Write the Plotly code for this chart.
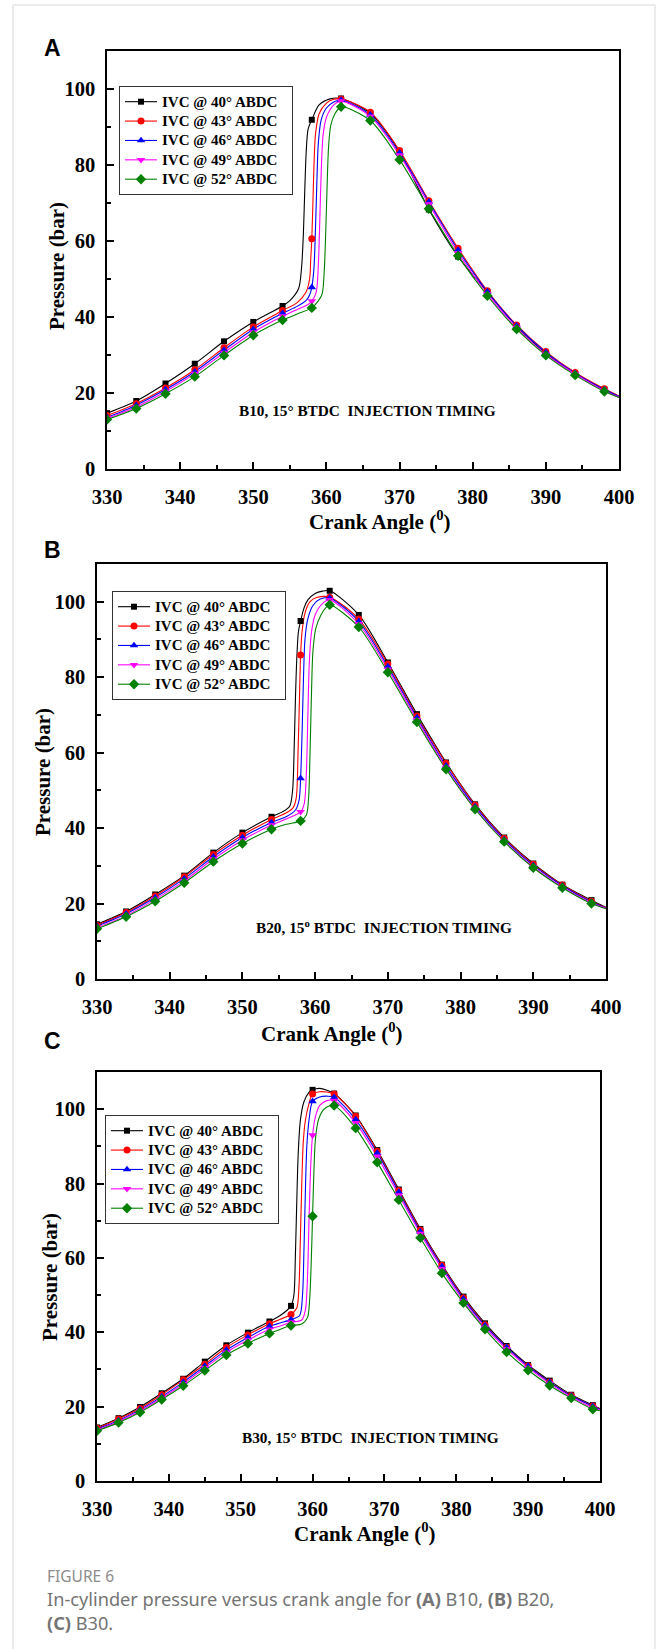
import plotly.graph_objects as go

W, H = 658, 1649

# ---------------- data ----------------
NAMES = ["IVC @ 40° ABDC", "IVC @ 43° ABDC", "IVC @ 46° ABDC", "IVC @ 49° ABDC", "IVC @ 52° ABDC"]
COLORS = ["#000000", "#ff0000", "#0000ff", "#ff00ff", "#008000"]
SYMBOLS = ["square", "circle", "triangle-up", "triangle-down", "diamond"]
MSIZES = [6, 7, 7.5, 7.5, 8]

# Panel A : B10 — markers every 4 deg
A_x = [330, 334, 338, 342, 346, 350, 354, 358, 362, 366, 370, 374, 378, 382, 386, 390, 394, 398]
A_40 = [14.7, 17.9, 22.5, 27.7, 33.6, 38.7, 42.9, 91.9, 97.5, 93.6, 83.5, 68.3, 55.9, 46.6, 37.6, 30.4, 25.1, 20.9]
A_43 = [14.1, 17.2, 21.3, 26.1, 31.9, 37.4, 41.7, 60.6, 97.4, 93.9, 83.8, 70.6, 58.1, 46.9, 37.9, 30.9, 25.4, 21.1]
A_46 = [13.6, 16.8, 20.9, 25.6, 31.3, 36.8, 41.0, 47.8, 97.1, 93.2, 83.2, 70.3, 57.6, 46.7, 37.7, 30.7, 25.2, 20.9]
A_49 = [13.3, 16.3, 20.4, 25.1, 30.6, 36.0, 40.2, 44.2, 96.8, 92.8, 82.6, 69.7, 56.9, 46.1, 37.2, 30.2, 25.0, 20.6]
A_52 = [13.0, 15.9, 19.8, 24.3, 29.9, 35.2, 39.2, 42.4, 95.3, 91.7, 81.4, 68.5, 56.1, 45.6, 36.8, 29.9, 24.7, 20.4]
# extra curve points (combustion rise and end of trace)
A_40_ex = [355, 356.2, 356.6, 356.85, 357.05, 357.25, 357.5, 359, 360.5, 400]
A_40_ey = [44.3, 47.5, 53, 62, 74, 84, 89.5, 95.8, 97.4, 19.0]
A_43_ex = [356, 357.2, 357.7, 357.85, 358.15, 358.3, 358.5, 359, 360, 361, 400]
A_43_ey = [43.8, 46.5, 50, 55, 70, 80, 88, 93.5, 96.3, 97.3, 19.2]
A_46_ex = [356, 357.2, 357.7, 358.3, 358.5, 358.7, 358.9, 359.3, 360, 361, 400]
A_46_ey = [42.8, 44.3, 45.8, 53, 63, 76, 86, 92, 95, 96.6, 19.1]
A_49_ex = [356, 357.5, 358.6, 358.9, 359.1, 359.3, 359.55, 360, 361, 400]
A_49_ey = [42.0, 43.3, 46.5, 54, 66, 79, 88, 92.5, 95.8, 18.9]
A_52_ex = [356, 358.7, 359.4, 359.7, 359.9, 360.1, 360.3, 360.6, 361.2, 400]
A_52_ey = [40.8, 43.8, 46, 52, 62, 75, 85, 90.5, 93.6, 18.8]

# Panel B : B20 — markers every 4 deg
B_x = [330, 334, 338, 342, 346, 350, 354, 358, 362, 366, 370, 374, 378, 382, 386, 390, 394, 398]
B_40 = [14.5, 17.9, 22.4, 27.4, 33.5, 38.8, 43.0, 94.9, 102.9, 96.5, 83.9, 70.2, 57.4, 46.3, 37.5, 30.6, 25.0, 20.9]
B_43 = [14.2, 17.6, 22.0, 27.1, 33.0, 38.1, 42.3, 85.9, 101.2, 95.4, 83.5, 69.7, 57.2, 46.1, 37.3, 30.4, 24.9, 20.6]
B_46 = [14.0, 17.3, 21.6, 26.6, 32.4, 37.5, 41.5, 53.2, 101.0, 94.8, 82.8, 69.3, 56.5, 45.7, 37.0, 30.1, 24.7, 20.4]
B_49 = [13.6, 16.8, 21.1, 26.0, 31.8, 36.8, 40.8, 44.3, 100.5, 94.1, 82.1, 68.7, 56.0, 45.2, 36.6, 29.7, 24.4, 20.2]
B_52 = [13.3, 16.5, 20.6, 25.5, 31.1, 35.9, 39.7, 41.9, 99.2, 93.3, 81.3, 68.1, 55.6, 45.0, 36.4, 29.5, 24.2, 20.0]
B_40_ex = [355.5, 356.5, 356.9, 357.1, 357.3, 357.5, 357.7, 358.5, 359, 360, 361, 400]
B_40_ey = [44.3, 45.8, 50, 60, 75, 86, 92, 98.5, 100.5, 102.2, 102.8, 19.0]
B_43_ex = [356, 357, 357.4, 357.65, 357.85, 358.2, 358.6, 359.3, 360.2, 400]
B_43_ey = [44.0, 45.5, 48, 60, 75, 92, 97, 100, 101.1, 18.9]
B_46_ex = [356, 357.3, 357.8, 358.2, 358.4, 358.6, 359, 359.7, 360.7, 400]
B_46_ey = [43.0, 44.8, 47.5, 65, 80, 90, 95.5, 99, 100.7, 18.8]
B_49_ex = [356, 358.5, 358.8, 359.0, 359.2, 359.5, 360, 361, 400]
B_49_ey = [42.4, 46.5, 55, 70, 84, 92, 96.5, 99.5, 18.7]
B_52_ex = [356, 358.8, 359.1, 359.3, 359.5, 359.7, 360.1, 360.8, 361.5, 400]
B_52_ey = [41.0, 43.5, 48, 60, 76, 87, 93, 96.5, 98.5, 18.6]

# Panel C : B30 — markers every 3 deg
C_x = [330, 333, 336, 339, 342, 345, 348, 351, 354, 357, 360, 363, 366, 369, 372, 375, 378, 381, 384, 387, 390, 393, 396, 399]
C_40 = [14.4, 16.9, 19.9, 23.6, 27.5, 32.1, 36.5, 39.9, 42.9, 47.1, 105.2, 104.2, 98.3, 89.0, 78.4, 67.8, 58.2, 49.6, 42.4, 36.3, 31.2, 27.0, 23.2, 20.4]
C_43 = [14.2, 16.7, 19.5, 23.2, 27.2, 31.4, 35.9, 39.3, 42.3, 44.8, 104.1, 104.1, 98.1, 88.7, 78.1, 67.5, 58.0, 49.3, 42.0, 36.0, 31.0, 26.6, 23.0, 20.2]
C_46 = [14.0, 16.3, 19.2, 22.7, 26.6, 30.9, 35.2, 38.6, 41.6, 43.4, 102.1, 103.2, 97.2, 88.2, 77.7, 67.1, 57.7, 49.0, 41.8, 36.0, 30.9, 26.6, 22.9, 20.1]
C_49 = [13.7, 16.0, 18.8, 22.3, 26.1, 30.4, 34.6, 37.9, 40.8, 42.7, 93.0, 102.3, 96.3, 87.3, 76.9, 66.5, 57.1, 48.4, 41.3, 35.5, 30.5, 26.2, 22.6, 19.7]
C_52 = [13.5, 15.7, 18.5, 21.9, 25.6, 29.7, 33.9, 37.0, 39.7, 41.8, 71.2, 101.0, 94.9, 85.7, 75.6, 65.4, 55.9, 47.9, 40.8, 34.7, 29.8, 25.7, 22.3, 19.3]
C_40_ex = [355.5, 357.4, 357.6, 357.8, 358.0, 358.3, 358.8, 359.5, 361, 362, 400]
C_40_ey = [44.5, 50, 60, 75, 88, 97, 102, 104.5, 105.6, 105.1, 19.5]
C_43_ex = [355.5, 357.8, 358.1, 358.3, 358.5, 358.7, 359, 359.5, 361, 362, 400]
C_43_ey = [43.5, 46.5, 52, 65, 80, 91, 97, 101.5, 104.7, 104.6, 19.4]
C_46_ex = [355.5, 358.2, 358.6, 358.8, 359.0, 359.2, 359.5, 361, 362, 400]
C_46_ey = [42.5, 44.5, 50, 62, 78, 90, 97, 103.3, 103.5, 19.3]
C_49_ex = [355.5, 358.5, 359.0, 359.3, 359.5, 359.75, 360.4, 361, 362, 400]
C_49_ey = [41.7, 43.3, 46, 55, 70, 85, 98, 101, 102.3, 19.1]
C_52_ex = [355.5, 358.5, 359.3, 359.6, 359.8, 360.2, 360.4, 360.8, 361.5, 362.2, 400]
C_52_ey = [40.8, 42.2, 44, 49, 58, 84, 92, 97, 99.8, 100.8, 18.9]

X_TICKS = [330, 340, 350, 360, 370, 380, 390, 400]
Y_TICKS = [0, 20, 40, 60, 80, 100]

PANELS = [
    dict(letter="A", label="B10, 15° BTDC  INJECTION TIMING",
         mx=A_x, my=[A_40, A_43, A_46, A_49, A_52],
         ex=[A_40_ex, A_43_ex, A_46_ex, A_49_ex, A_52_ex],
         ey=[A_40_ey, A_43_ey, A_46_ey, A_49_ey, A_52_ey]),
    dict(letter="B", label="B20, 15<sup>o</sup> BTDC  INJECTION TIMING",
         mx=B_x, my=[B_40, B_43, B_46, B_49, B_52],
         ex=[B_40_ex, B_43_ex, B_46_ex, B_49_ex, B_52_ex],
         ey=[B_40_ey, B_43_ey, B_46_ey, B_49_ey, B_52_ey]),
    dict(letter="C", label="B30, 15° BTDC  INJECTION TIMING",
         mx=C_x, my=[C_40, C_43, C_46, C_49, C_52],
         ex=[C_40_ex, C_43_ex, C_46_ex, C_49_ex, C_52_ex],
         ey=[C_40_ey, C_43_ey, C_46_ey, C_49_ey, C_52_ey]),
]

# ---------------- layout geometry (pixels) ----------------
GEOM = [
    dict(x0=107, x1=619, y0=51, y1=469, leg=(119, 86), letter=(52, 48), ytitle=(57, 266),
         xtitle=(380, 520), note=(367, 410)),
    dict(x0=97, x1=606, y0=564, y1=979, leg=(112, 591), letter=(52, 550), ytitle=(43, 772),
         xtitle=(332, 1032), note=(384, 926)),
    dict(x0=97, x1=600, y0=1072, y1=1481, leg=(105, 1115), letter=(52, 1041), ytitle=(50, 1277),
         xtitle=(365, 1532), note=(370, 1437)),
]

def px(x):
    return x / W

def py(y):
    return 1 - y / H

def merged(xm, ym, xe, ye):
    pts = sorted(zip(list(xm) + list(xe), list(ym) + list(ye)))
    return [p[0] for p in pts], [p[1] for p in pts]

SERIF = "Liberation Serif, Times New Roman, serif"
LEG_TEXT = '<span style="font-size:15px">{}</span>\u00a0\u00a0\u00a0'
fig = go.Figure()
annotations = []
layout_axes = {}

for i, (P, G) in enumerate(zip(PANELS, GEOM)):
    sfx = "" if i == 0 else str(i + 1)
    xa, ya = "x" + sfx, "y" + sfx
    leg = "legend" + sfx
    for k in range(5):
        lx, ly = merged(P["mx"], P["my"][k], P["ex"][k], P["ey"][k])
        fig.add_trace(go.Scatter(x=lx, y=ly, mode="lines", xaxis=xa, yaxis=ya,
                                 line=dict(color=COLORS[k], width=1.1, shape="spline", smoothing=0.8),
                                 showlegend=False, hoverinfo="skip"))
    for k in range(5):
        fig.add_trace(go.Scatter(x=P["mx"], y=P["my"][k], mode="markers", xaxis=xa, yaxis=ya,
                                 marker=dict(color=COLORS[k], symbol=SYMBOLS[k], size=MSIZES[k],
                                             line=dict(width=0)),
                                 showlegend=False, hoverinfo="skip"))
    for k in range(5):
        fig.add_trace(go.Scatter(x=[None], y=[None], mode="lines+markers", xaxis=xa, yaxis=ya,
                                 name=LEG_TEXT.format(NAMES[k]), legend=leg,
                                 line=dict(color=COLORS[k], width=1.1),
                                 marker=dict(color=COLORS[k], symbol=SYMBOLS[k], size=MSIZES[k],
                                             line=dict(width=0))))

    axcommon = dict(showline=True, mirror=True, linecolor="black", linewidth=1.5,
                    showgrid=False, zeroline=False, ticks="inside", ticklen=7, tickwidth=1.5,
                    tickcolor="black", automargin=False,
                    tickfont=dict(family=SERIF, size=20.5, color="black", weight="bold"))
    layout_axes["xaxis" + sfx] = dict(axcommon, domain=[px(G["x0"]), px(G["x1"])], anchor=ya,
                                      range=[330, 400], tickmode="array", tickvals=X_TICKS,
                                      ticktext=[str(v) for v in X_TICKS], ticklabelstandoff=9,
                                      minor=dict(ticks="inside", ticklen=4, tickwidth=1.5,
                                                 tickcolor="black", dtick=5, tick0=330))
    layout_axes["yaxis" + sfx] = dict(axcommon, domain=[py(G["y1"]), py(G["y0"])], anchor=xa,
                                      range=[0, 110], tickmode="array", tickvals=Y_TICKS,
                                      ticktext=[str(v) for v in Y_TICKS], ticklabelstandoff=6,
                                      minor=dict(ticks="inside", ticklen=4, tickwidth=1.5,
                                                 tickcolor="black", dtick=10, tick0=0))
    layout_axes[leg] = dict(x=px(G["leg"][0]), y=py(G["leg"][1]), xanchor="left", yanchor="top",
                            bgcolor="white", bordercolor="#333333", borderwidth=1,
                            font=dict(family=SERIF, size=12.6, color="black", weight="bold"),
                            tracegroupgap=0, itemwidth=32)

    annotations += [
        dict(text=P["letter"], x=px(G["letter"][0]), y=py(G["letter"][1]), xref="paper", yref="paper",
             showarrow=False, xanchor="center", yanchor="middle",
             font=dict(family="Liberation Sans, Arial, sans-serif", size=23, color="black", weight="bold")),
        dict(text="Pressure (bar)", x=px(G["ytitle"][0]), y=py(G["ytitle"][1]), xref="paper", yref="paper",
             showarrow=False, textangle=-90, xanchor="center", yanchor="middle",
             font=dict(family=SERIF, size=21, color="black", weight="bold")),
        dict(text="Crank Angle (<sup>0</sup>)", x=px(G["xtitle"][0]), y=py(G["xtitle"][1]),
             xref="paper", yref="paper", showarrow=False, xanchor="center", yanchor="middle",
             font=dict(family=SERIF, size=21, color="black", weight="bold")),
        dict(text=P["label"], x=px(G["note"][0]), y=py(G["note"][1]), xref="paper", yref="paper",
             showarrow=False, xanchor="center", yanchor="middle",
             font=dict(family=SERIF, size=15.3, color="black", weight="bold")),
    ]

CAP_FONT = "Noto Sans, Open Sans, sans-serif"
annotations += [
    dict(text="FIGURE 6", x=px(45), y=py(1576), xref="paper", yref="paper", showarrow=False,
         xanchor="left", yanchor="middle", font=dict(family=CAP_FONT, size=15.5, color="#8c8c8c")),
    dict(text="In-cylinder pressure versus crank angle for <b>(A)</b> B10, <b>(B)</b> B20,",
         x=px(45), y=py(1599), xref="paper", yref="paper", showarrow=False,
         xanchor="left", yanchor="middle", font=dict(family=CAP_FONT, size=18.2, color="#747474")),
    dict(text="<b>(C)</b> B30.", x=px(45), y=py(1623), xref="paper", yref="paper", showarrow=False,
         xanchor="left", yanchor="middle", font=dict(family=CAP_FONT, size=18.2, color="#747474")),
]

# light frame around the whole figure (left, top, right edges; bottom runs off the page)
BORDER = dict(color="#d9d9d9", width=1)
shapes = [
    dict(type="line", xref="paper", yref="paper", x0=px(13), x1=px(13), y0=0, y1=py(5), line=BORDER),
    dict(type="line", xref="paper", yref="paper", x0=px(13), x1=px(655), y0=py(5), y1=py(5), line=BORDER),
    dict(type="line", xref="paper", yref="paper", x0=px(655), x1=px(655), y0=0, y1=py(5), line=BORDER),
]

fig.update_layout(width=W, height=H, autosize=False, margin=dict(l=0, r=0, t=0, b=0, autoexpand=False),
                  paper_bgcolor="white", plot_bgcolor="white", hovermode=False,
                  annotations=annotations, shapes=shapes, **layout_axes)

fig.write_html("out.html", config={"displayModeBar": False, "responsive": False},
               post_script="document.body.style.margin='0';document.body.style.padding='0';"
                           "document.documentElement.style.overflow='hidden';")
